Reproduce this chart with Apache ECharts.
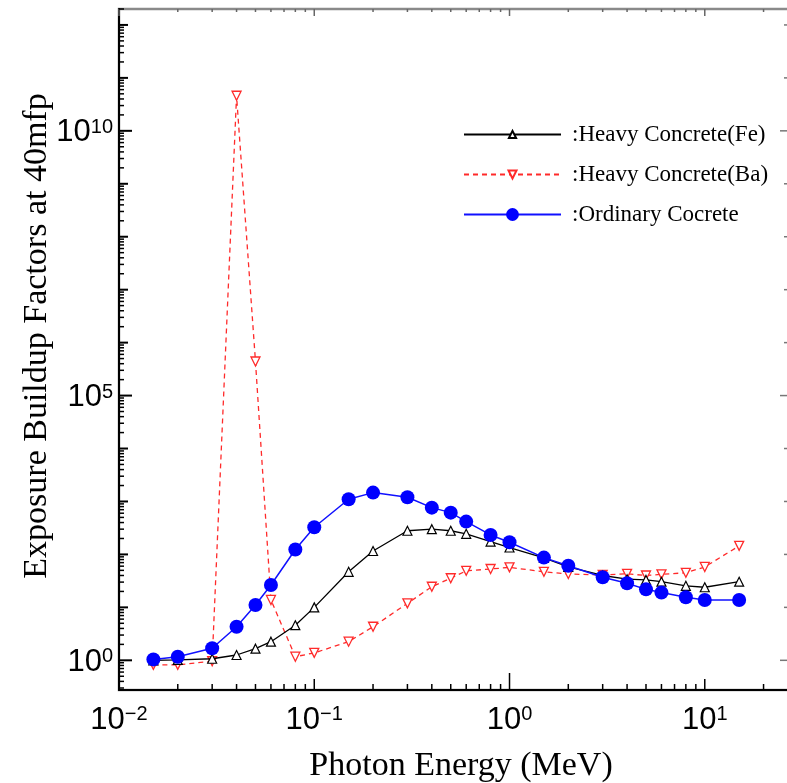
<!DOCTYPE html>
<html>
<head>
<meta charset="utf-8">
<script src="https://cdn.jsdelivr.net/npm/echarts@6/dist/echarts.min.js"></script>
<style>
  html, body { margin: 0; padding: 0; background: #fff; }
  #chart { width: 787px; height: 783px; }
</style>
</head>
<body>
<div id="chart"></div>
<script>
// Photon energies (MeV)
const energies = [0.015, 0.02, 0.03, 0.04, 0.05, 0.06, 0.08, 0.1, 0.15, 0.2, 0.3, 0.4, 0.5, 0.6, 0.8, 1, 1.5, 2, 3, 4, 5, 6, 8, 10, 15];

// Exposure buildup factors at 40 mfp
const feValues = [1.0, 1.02, 1.07, 1.26, 1.66, 2.25, 4.6, 10, 47, 116, 280, 300, 280, 245, 175, 135, 86, 58, 40, 34, 33, 30.5, 25.5, 24, 30.5];
const baValues = [0.82, 0.82, 0.96, 4.6e10, 4.4e5, 13.8, 1.17, 1.38, 2.25, 4.3, 11.9, 24.5, 35.5, 49, 53, 57, 47, 42.7, 41, 43, 40, 42, 45, 58, 145];
const ordinaryValues = [1.04, 1.17, 1.69, 4.3, 11.1, 26.4, 124, 326, 1100, 1470, 1200, 765, 615, 417, 233, 170, 87, 61, 37, 28.5, 21.9, 19, 15.5, 13.8, 13.8];

const seriesNames = [':Heavy Concrete(Fe)', ':Heavy Concrete(Ba)', ':Ordinary Cocrete'];

// Axis ranges and labelled decades
const X_MIN = 0.01, X_MAX = 27;
const Y_MIN = 0.275, Y_MAX = 2e12;
const xLabelExponents = [-2, -1, 0, 1];
const yLabelExponents = [0, 5, 10];

// Log tick positions (1..9 x 10^d) inside a range; kind: 0 minor, 1 decade, 2 labelled decade
function logTicks(lo, hi, labelled) {
  const out = [];
  for (let d = Math.floor(Math.log10(lo)); d <= Math.ceil(Math.log10(hi)); d++) {
    for (let k = 1; k <= 9; k++) {
      const v = k * Math.pow(10, d);
      if (v < lo * 0.9999 || v > hi * 1.0001) continue;
      let kind = 0;
      if (k === 1) kind = labelled.indexOf(d) >= 0 ? 2 : 1;
      out.push({ v: v, kind: kind, d: d });
    }
  }
  return out;
}
const xTicks = logTicks(X_MIN, X_MAX, xLabelExponents);
const yTicks = logTicks(Y_MIN, Y_MAX, yLabelExponents);

function expText(d) {
  return d < 0 ? '\u2212' + (-d) : String(d);
}
const labelRich = {
  b: { fontSize: 31, fontFamily: 'Liberation Sans', color: '#000' },
  s: { fontSize: 20, fontFamily: 'Liberation Sans', color: '#000', verticalAlign: 'top' }
};

function renderXTick(params, api) {
  const cs = params.coordSys;
  const x = api.coord([api.value(0), Y_MIN])[0];
  const kind = api.value(2);
  const bottom = cs.y + cs.height, top = cs.y;
  const v = api.value(0);
  let lenB = [6, 11, 11][kind];
  if (Math.abs(v - 1) < 1e-9) lenB = 17;
  const lenT = [3, 7, 7][kind];
  return {
    type: 'group',
    children: [
      { type: 'line', shape: { x1: x, y1: bottom, x2: x, y2: bottom - lenB }, style: { stroke: '#000', lineWidth: 1.5 } },
      { type: 'line', shape: { x1: x, y1: top, x2: x, y2: top + lenT }, style: { stroke: '#666', lineWidth: 1.5 } }
    ]
  };
}

function renderYTick(params, api) {
  const cs = params.coordSys;
  const y = api.coord([X_MIN, api.value(1)])[1];
  const kind = api.value(2);
  const left = cs.x, right = cs.x + cs.width;
  const lenL = [5, 9, 13][kind];
  const children = [
    { type: 'line', shape: { x1: left, y1: y, x2: left + lenL, y2: y }, style: { stroke: '#000', lineWidth: kind ? 2 : 1.5 } }
  ];
  if (kind > 0) {
    children.push({ type: 'line', shape: { x1: right, y1: y, x2: right - (kind === 2 ? 9 : 5), y2: y }, style: { stroke: '#777', lineWidth: 1.5 } });
  }
  return { type: 'group', children: children };
}

function renderXLabel(params, api) {
  const cs = params.coordSys;
  const x = api.coord([api.value(0), Y_MIN])[0];
  const d = api.value(2);
  return {
    type: 'text',
    x: x, y: cs.y + cs.height + 30,
    style: { text: '{b|10}{s|' + expText(d) + '}', rich: labelRich, align: 'center', verticalAlign: 'middle' }
  };
}

function renderYLabel(params, api) {
  const cs = params.coordSys;
  const y = api.coord([X_MIN, api.value(1)])[1];
  const d = api.value(2);
  return {
    type: 'text',
    x: cs.x - 6, y: y + 2,
    style: { text: '{b|10}{s|' + expText(d) + '}', rich: labelRich, align: 'right', verticalAlign: 'middle' }
  };
}

const chart = echarts.init(document.getElementById('chart'), null, { renderer: 'canvas' });

const legendText = { fontFamily: 'Liberation Serif', fontSize: 23, color: '#000', padding: [0, 0, 0, 6] };
function legendRow(name, centerY, itemHeight) {
  return {
    data: [name], left: 463, top: centerY - 12, padding: 0,
    itemWidth: 97, itemHeight: itemHeight, textStyle: legendText,
    selectedMode: false
  };
}

chart.setOption({
  animation: false,
  backgroundColor: '#fff',
  grid: {
    left: 119, top: 9, width: 670, height: 681,
    containLabel: false, outerBoundsMode: 'none',
    show: true, borderColor: '#8a8a8a', borderWidth: 2.5, backgroundColor: 'transparent'
  },
  legend: [
    legendRow(seriesNames[0], 135, 9),
    legendRow(seriesNames[1], 175, 10),
    legendRow(seriesNames[2], 215, 16)
  ],
  xAxis: {
    type: 'log', logBase: 10, min: X_MIN, max: X_MAX,
    name: 'Photon Energy (MeV)', nameLocation: 'middle', nameGap: 59,
    nameTextStyle: { fontFamily: 'Liberation Serif', fontSize: 34, color: '#000', padding: [0, 0, 0, 14] },
    axisLine: { show: true, lineStyle: { color: '#000', width: 2 } },
    axisTick: { show: false }, axisLabel: { show: false }, splitLine: { show: false }, minorTick: { show: false }
  },
  yAxis: {
    type: 'log', logBase: 10, min: Y_MIN, max: Y_MAX,
    name: 'Exposure Buildup Factors at 40mfp', nameLocation: 'middle', nameRotate: 90, nameGap: 65,
    nameTextStyle: { fontFamily: 'Liberation Serif', fontSize: 34, color: '#000', padding: [0, 0, 0, 27] },
    axisLine: { show: true, lineStyle: { color: '#000', width: 2 } },
    axisTick: { show: false }, axisLabel: { show: false }, splitLine: { show: false }, minorTick: { show: false }
  },
  series: [
    {
      name: seriesNames[1], type: 'line',
      data: energies.map((e, i) => [e, baValues[i]]),
      symbol: 'triangle', symbolRotate: 180, symbolSize: 9,
      lineStyle: { color: '#ff2a2a', width: 1.3, type: [5, 4] },
      itemStyle: { color: '#fff', borderColor: '#ff2a2a', borderWidth: 1.3 },
      z: 3
    },
    {
      name: seriesNames[0], type: 'line',
      data: energies.map((e, i) => [e, feValues[i]]),
      symbol: 'triangle', symbolSize: 9,
      lineStyle: { color: '#000', width: 1.3 },
      itemStyle: { color: '#fff', borderColor: '#000', borderWidth: 1.2 },
      z: 4
    },
    {
      name: seriesNames[2], type: 'line',
      data: energies.map((e, i) => [e, ordinaryValues[i]]),
      symbol: 'circle', symbolSize: 14,
      lineStyle: { color: '#1010ff', width: 1.5 },
      itemStyle: { color: '#0000ff' },
      z: 5
    },
    {
      type: 'custom', name: 'xTicks', silent: true, clip: false, z: 6,
      encode: { x: 0, y: 1 },
      data: xTicks.map(t => [t.v, Y_MIN, t.kind]),
      renderItem: renderXTick
    },
    {
      type: 'custom', name: 'yTicks', silent: true, clip: false, z: 6,
      encode: { x: 0, y: 1 },
      data: yTicks.map(t => [X_MIN, t.v, t.kind]),
      renderItem: renderYTick
    },
    {
      type: 'custom', name: 'xLabels', silent: true, clip: false, z: 6,
      encode: { x: 0, y: 1 },
      data: xLabelExponents.map(d => [Math.pow(10, d), Y_MIN, d]),
      renderItem: renderXLabel
    },
    {
      type: 'custom', name: 'yLabels', silent: true, clip: false, z: 6,
      encode: { x: 0, y: 1 },
      data: yLabelExponents.map(d => [X_MIN, Math.pow(10, d), d]),
      renderItem: renderYLabel
    }
  ]
});
</script>
</body>
</html>
